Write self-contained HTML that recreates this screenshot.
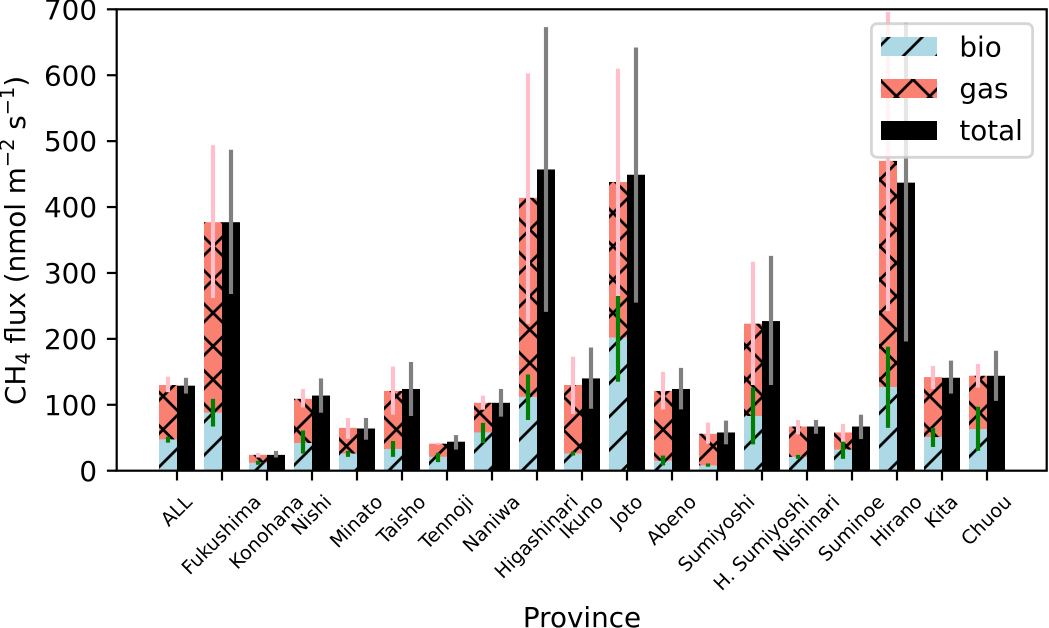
<!DOCTYPE html>
<html lang="en">
<head>
<meta charset="utf-8">
<title>CH4 flux by province</title>
<style>
  html, body { margin: 0; padding: 0; background: #fff; }
  svg { display: block; }
  text { font-family: "DejaVu Sans", "Liberation Sans", sans-serif; fill: #000; }
</style>
</head>
<body>
<svg id="chart" xmlns="http://www.w3.org/2000/svg" width="1049" height="628" viewBox="0 0 1049 628">
  <defs>
    <pattern id="hatch-bio" patternUnits="userSpaceOnUse" width="33.333" height="33.333" patternTransform="translate(26 0)">
      <path d="M-5 5 L5 -5 M-5 38.333 L38.333 -5 M28.333 38.333 L38.333 28.333" stroke="#000" stroke-width="2.78" fill="none"/>
    </pattern>
    <pattern id="hatch-gas" patternUnits="userSpaceOnUse" width="33.333" height="33.333" patternTransform="translate(29.75 -3.75)">
      <path d="M-5 5 L5 -5 M-5 38.333 L38.333 -5 M28.333 38.333 L38.333 28.333 M-5 28.333 L5 38.333 M-5 -5 L38.333 38.333 M28.333 -5 L38.333 5" stroke="#000" stroke-width="2.78" fill="none"/>
    </pattern>
  </defs>
  <g id="bars"></g>
  <g id="errors"></g>
  <g id="x-axis"></g>
  <g id="y-axis"></g>
  <rect x="116.7" y="9.3" width="930" height="461.4" fill="none" stroke="#000" stroke-width="2.2"/>
  <text x="582" y="627" font-size="27.78" text-anchor="middle">Province</text>
  <text transform="translate(25 405) rotate(-90)" font-size="27.78">CH<tspan font-size="19.4" dy="5">4</tspan><tspan dy="-5"> flux (nmol m</tspan><tspan font-size="19.4" dy="-11">−2</tspan><tspan dy="11"> s</tspan><tspan font-size="19.4" dy="-11">−1</tspan><tspan dy="11">)</tspan></text>
  <g>
    <rect x="871.4" y="23.7" width="161.2" height="133.6" rx="5.6" ry="5.6" fill="#fff" fill-opacity="0.8" stroke="#ccc" stroke-opacity="0.8" stroke-width="2.78"/>
    <rect x="881" y="37" width="56" height="19" fill="#add8e6"/>
    <rect x="881" y="37" width="56" height="19" fill="url(#hatch-bio)"/>
    <text x="959.4" y="56.5" font-size="27.78">bio</text>
    <rect x="881" y="79" width="56" height="19" fill="#fa8072"/>
    <rect x="881" y="79" width="56" height="19" fill="url(#hatch-gas)"/>
    <text x="959.4" y="98" font-size="27.78">gas</text>
    <rect x="881" y="121" width="56" height="19" fill="#000"/>
    <text x="959.4" y="140" font-size="27.78">total</text>
  </g>
</svg>
<script>
const categories = ["ALL","Fukushima","Konohana","Nishi","Minato","Taisho","Tennoji","Naniwa","Higashinari","Ikuno","Joto","Abeno","Sumiyoshi","H. Sumiyoshi","Nishinari","Suminoe","Hirano","Kita","Chuou"];
const bioValues = [47.5,88,12,42,26,33,21,58,112,26,202,15,8,83,21,32,127,51,63];
const gasValues = [82.5,289,12,67,39,88,20,45,302,104,236,106,48,140,46,26,343,91,81];
const totalValues = [129,377,24,114,64,124,44,103,457,140,449,124,58,227,67,67,437,141,144];
const bioErrLow = [42.5,67,9,26,21,21,13,42,77,23,135,8,6,40,18,18,65,36,30];
const bioErrHigh = [51.6,109,15,61,30,45,27,72.6,146,29,265,23,11,126,24,44,188,65,97];
const gasErrLow = [119,262,20,96,48.5,85,39.5,92.5,223,86,265,93,41,130,55,44,242,124,126];
const gasErrHigh = [142.6,494,27,124,80,158,42.5,114,603,173,610,150,73,317,77,71,696,159,162];
const totalErrLow = [117,268,20,88,47,83,32,82,241,94,255,93,40,130,56,48,196,117,106];
const totalErrHigh = [141,487,30,140,80,165,54,124,673,187,642,156,76,326,77,85,680,167,182];
const yTicks = [0,100,200,300,400,500,600,700];

const NS = "http://www.w3.org/2000/svg";
const xScale = function (i) { return 177 + i * 45; };
const yScale = function (v) { return 470.7 - v * (461.4 / 700); };
const barWidth = 18;
const make = function (tag, parent) {
  const el = document.createElementNS(NS, tag);
  parent.appendChild(el);
  return el;
};
const setRect = function (el, x, top, bottom, fill) {
  el.setAttribute('x', x);
  el.setAttribute('y', top);
  el.setAttribute('width', barWidth);
  el.setAttribute('height', Math.max(0, bottom - top));
  el.setAttribute('fill', fill);
};
const setLine = function (el, x1, y1, x2, y2, color, width) {
  el.setAttribute('x1', x1);
  el.setAttribute('y1', y1);
  el.setAttribute('x2', x2);
  el.setAttribute('y2', y2);
  el.setAttribute('stroke', color);
  el.setAttribute('stroke-width', width);
};

const barsGroup = document.getElementById('bars');
const errorsGroup = document.getElementById('errors');
const xAxis = document.getElementById('x-axis');
const yAxis = document.getElementById('y-axis');

categories.forEach(function (name, i) {
  const cx = xScale(i);
  const bioTop = yScale(bioValues[i]);
  const gasTop = yScale(bioValues[i] + gasValues[i]);
  const base = yScale(0);

  const bio = make('rect', barsGroup);
  
  
  setRect(bio, cx - barWidth, bioTop, base, '#add8e6');

  const bioHatch = make('rect', barsGroup);
  
  
  setRect(bioHatch, cx - barWidth, bioTop, base, 'url(#hatch-bio)');

  const gas = make('rect', barsGroup);
  
  
  setRect(gas, cx - barWidth, gasTop, bioTop, '#fa8072');

  const gasHatch = make('rect', barsGroup);
  
  
  setRect(gasHatch, cx - barWidth, gasTop, bioTop, 'url(#hatch-gas)');

  const total = make('rect', barsGroup);
  
  
  setRect(total, cx, yScale(totalValues[i]), base, '#000');

  const bioErr = make('line', errorsGroup);
  
  
  setLine(bioErr, cx - 9, yScale(bioErrLow[i]), cx - 9, yScale(bioErrHigh[i]), '#008000', 4.17);

  const gasErr = make('line', errorsGroup);
  
  
  setLine(gasErr, cx - 9, yScale(gasErrLow[i]), cx - 9, yScale(gasErrHigh[i]), '#ffc0cb', 4.17);

  const totalErr = make('line', errorsGroup);
  
  
  setLine(totalErr, cx + 9, yScale(totalErrLow[i]), cx + 9, yScale(totalErrHigh[i]), '#808080', 4.17);

  const tick = make('line', xAxis);
  
  
  setLine(tick, cx, 470.7, cx, 480.5, '#000', 2.2);

  const label = make('text', xAxis);
  
  
  label.setAttribute('font-size', '19.2');
  label.setAttribute('text-anchor', 'middle');
  label.textContent = name;
  const len = label.getComputedTextLength();
  const midY = 491.7 + (len + 20) * 0.7071 / 2;
  label.setAttribute('x', cx - 0.3);
  label.setAttribute('y', midY + 6);
  label.setAttribute('transform', 'rotate(-45 ' + (cx - 0.3) + ' ' + midY + ')');
});

yTicks.forEach(function (v) {
  const y = yScale(v);
  const tick = make('line', yAxis);
  
  
  setLine(tick, 106.9, y, 116.7, y, '#000', 2.2);

  const label = make('text', yAxis);
  
  
  label.setAttribute('font-size', '27.78');
  label.setAttribute('text-anchor', 'end');
  label.setAttribute('x', 97);
  label.setAttribute('y', y + 10.1);
  label.textContent = String(v);
});
</script>
</body>
</html>
